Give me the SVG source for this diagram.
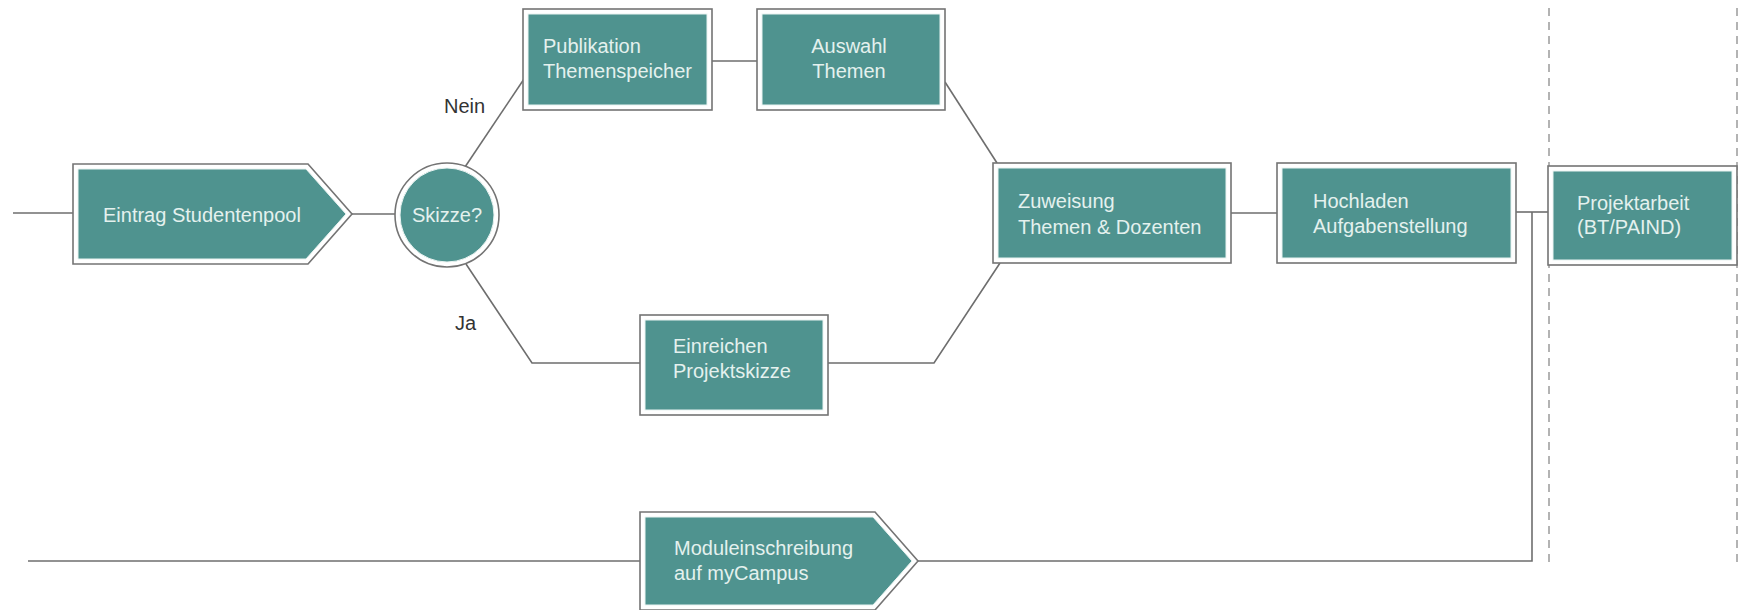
<svg xmlns="http://www.w3.org/2000/svg" width="1743" height="610" viewBox="0 0 1743 610">
<defs>
<style>
.outer{fill:#ffffff;stroke:#747474;stroke-width:1.6}
.inner{fill:#4f938f;stroke:#e9f3f1;stroke-width:1}
.lbl{font-family:"Liberation Sans",Arial,sans-serif;font-size:20px;fill:#e4f1ee}
.dec{font-family:"Liberation Sans",Arial,sans-serif;font-size:20px;fill:#333333}
.conn{fill:none;stroke:#6e6e6e;stroke-width:1.6}
.lane{fill:none;stroke:#9a9a9a;stroke-width:1.5;stroke-dasharray:8 6}
</style>
</defs>
<rect width="1743" height="610" fill="#ffffff"/>
<g id="lanes">
<line class="lane" x1="1549" y1="8" x2="1549" y2="562"/>
<line class="lane" x1="1737" y1="8" x2="1737" y2="562"/>
</g>
<g id="connectors">
<line class="conn" x1="13" y1="213" x2="73" y2="213"/>
<line class="conn" x1="352" y1="214" x2="395" y2="214"/>
<line class="conn" x1="465" y1="167" x2="524" y2="79"/>
<polyline class="conn" points="466,264 532,363 640,363"/>
<line class="conn" x1="712" y1="61" x2="757" y2="61"/>
<line class="conn" x1="945" y1="82" x2="997" y2="163"/>
<polyline class="conn" points="828,363 934,363 1000,263"/>
<line class="conn" x1="1231" y1="213" x2="1277" y2="213"/>
<line class="conn" x1="1516" y1="212" x2="1548" y2="212"/>
<polyline class="conn" points="918,561 1532,561 1532,212"/>
<line class="conn" x1="28" y1="561" x2="640" y2="561"/>
</g>
<g id="eintrag">
<polygon class="outer" points="73,164 308,164 352,214 308,264 73,264"/>
<polygon class="inner" points="78,169 306,169 346,214 306,259 78,259"/>
<text class="lbl" x="103" y="222">Eintrag Studentenpool</text>
</g>
<g id="skizze">
<circle class="outer" cx="447" cy="215" r="52"/>
<circle class="inner" cx="447" cy="215" r="47"/>
<text class="lbl" x="447" y="222" text-anchor="middle">Skizze?</text>
</g>
<g id="label-nein"><text class="dec" x="444" y="113">Nein</text></g>
<g id="label-ja"><text class="dec" x="455" y="330">Ja</text></g>
<g id="publikation">
<rect class="outer" x="523" y="9" width="189" height="101"/>
<rect class="inner" x="528" y="14" width="179" height="91"/>
<text class="lbl" x="543" y="53">Publikation</text>
<text class="lbl" x="543" y="78">Themenspeicher</text>
</g>
<g id="auswahl">
<rect class="outer" x="757" y="9" width="188" height="101"/>
<rect class="inner" x="762" y="14" width="178" height="91"/>
<text class="lbl" x="849" y="53" text-anchor="middle">Auswahl</text>
<text class="lbl" x="849" y="78" text-anchor="middle">Themen</text>
</g>
<g id="einreichen">
<rect class="outer" x="640" y="315" width="188" height="100"/>
<rect class="inner" x="645" y="320" width="178" height="90"/>
<text class="lbl" x="673" y="353">Einreichen</text>
<text class="lbl" x="673" y="378">Projektskizze</text>
</g>
<g id="zuweisung">
<rect class="outer" x="993" y="163" width="238" height="100"/>
<rect class="inner" x="998" y="168" width="228" height="90"/>
<text class="lbl" x="1018" y="208">Zuweisung</text>
<text class="lbl" x="1018" y="234">Themen &amp; Dozenten</text>
</g>
<g id="hochladen">
<rect class="outer" x="1277" y="163" width="239" height="100"/>
<rect class="inner" x="1282" y="168" width="229" height="90"/>
<text class="lbl" x="1313" y="208">Hochladen</text>
<text class="lbl" x="1313" y="233">Aufgabenstellung</text>
</g>
<g id="projektarbeit">
<rect class="outer" x="1548" y="166" width="189" height="99"/>
<rect class="inner" x="1553" y="171" width="179" height="89"/>
<text class="lbl" x="1577" y="210">Projektarbeit</text>
<text class="lbl" x="1577" y="234">(BT/PAIND)</text>
</g>
<g id="moduleinschreibung">
<polygon class="outer" points="640,512 875,512 918,561 875,610 640,610"/>
<polygon class="inner" points="645,517 873,517 912,561 873,605 645,605"/>
<text class="lbl" x="674" y="555">Moduleinschreibung</text>
<text class="lbl" x="674" y="580">auf myCampus</text>
</g>
</svg>
